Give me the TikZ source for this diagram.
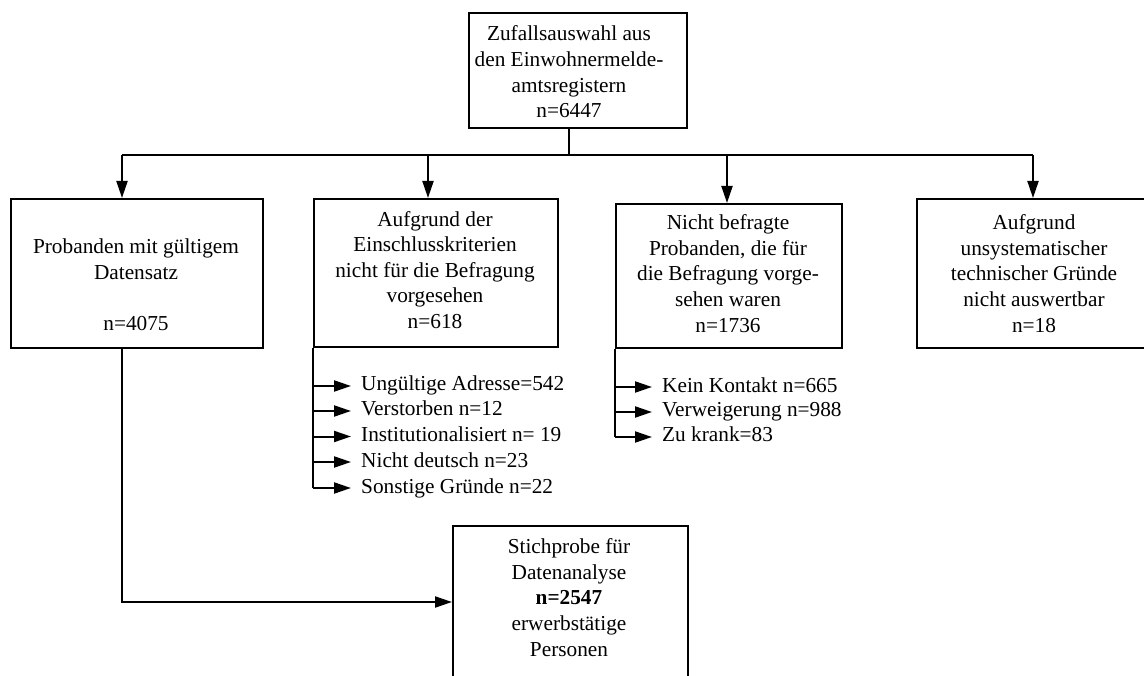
\documentclass[tikz,border=0pt]{standalone}
\usepackage{fontspec}
\setmainfont{Liberation Serif}
\usetikzlibrary{arrows.meta}
\begin{document}
\begin{tikzpicture}[x=1pt,y=-1pt,
  box/.style={draw,line width=2.4pt,inner sep=0pt,anchor=north west},
  txt/.style={align=center,font=\fontsize{21.3}{25.6}\selectfont,inner sep=0pt},
  item/.style={anchor=west,font=\fontsize{21.3}{25.6}\selectfont,inner sep=0pt,text height=14pt,text depth=4pt},
  conn/.style={line width=2pt},
  arr/.style={conn,-{Triangle[length=17pt,width=11pt]}}]
\useasboundingbox (0,0) rectangle (1144,676);
\clip (0,0) rectangle (1144,676);
% boxes
\node[box,minimum width=218pt,minimum height=115pt] (top) at (468,12) {};
\node[box,minimum width=252pt,minimum height=149pt] (b1) at (10,198) {};
\node[box,minimum width=244pt,minimum height=148pt] (b2) at (313,198) {};
\node[box,minimum width=226pt,minimum height=144pt] (b3) at (615,203) {};
\node[box,minimum width=236pt,minimum height=149pt] (b4) at (916,198) {};
\node[box,minimum width=235pt,minimum height=175pt] (b5) at (452,525) {};
% texts
\node[txt] (ttop) at (569,72) {Zufallsauswahl aus\\den Einwohnermelde-\\amtsregistern\\n=6447};
\node[txt] (t1) at (136,285) {Probanden mit gültigem\\Datensatz\\[25.6pt]n=4075};
\node[txt] (t2) at (435,270) {Aufgrund der\\Einschlusskriterien\\nicht für die Befragung\\vorgesehen\\n=618};
\node[txt] (t3) at (728,273.5) {Nicht befragte\\Probanden, die für\\die Befragung vorge-\\sehen waren\\n=1736};
\node[txt] (t4) at (1034,273.5) {Aufgrund\\unsystematischer\\technischer Gründe\\nicht auswertbar\\n=18};
\node[txt] (t5) at (569,597.5) {Stichprobe für\\Datenanalyse\\\textbf{n=2547}\\erwerbstätige\\Personen};
% list items
\node[item] (a1) at (361,386) {Ungültige Adresse=542};
\node[item] (a2) at (361,411) {Verstorben n=12};
\node[item] (a3) at (361,436.5) {Institutionalisiert n= 19};
\node[item] (a4) at (361,462) {Nicht deutsch n=23};
\node[item] (a5) at (361,488) {Sonstige Gründe n=22};
\node[item] (k1) at (662,387) {Kein Kontakt n=665};
\node[item] (k2) at (662,412) {Verweigerung n=988};
\node[item] (k3) at (662,437) {Zu krank=83};
% connectors
\coordinate (hl) at (122,155);
\coordinate (h2) at (428,155);
\coordinate (h3) at (727,155);
\coordinate (hr) at (1033,155);
\coordinate (c1) at (122,602);
\draw[conn] (ttop |- top.south) -- (ttop |- hl);
\draw[conn] (hl) -- (hr);
\draw[arr] (hl) -- (hl |- b1.north);
\draw[arr] (h2) -- (h2 |- b2.north);
\draw[arr] (h3) -- (h3 |- b3.north);
\draw[arr] (hr) -- (hr |- b4.north);
\draw[arr] (hl |- b1.south) -- (c1) -- (c1 -| b5.west);
\draw[conn] (b2.south west) -- (b2.south west |- a5.west);
\foreach \n in {a1,a2,a3,a4,a5}{\draw[arr] (b2.south west |- \n.west) -- ([xshift=-10pt]\n.west);}
\draw[conn] (b3.south west) -- (b3.south west |- k3.west);
\foreach \n in {k1,k2,k3}{\draw[arr] (b3.south west |- \n.west) -- ([xshift=-10pt]\n.west);}
\end{tikzpicture}
\end{document}
